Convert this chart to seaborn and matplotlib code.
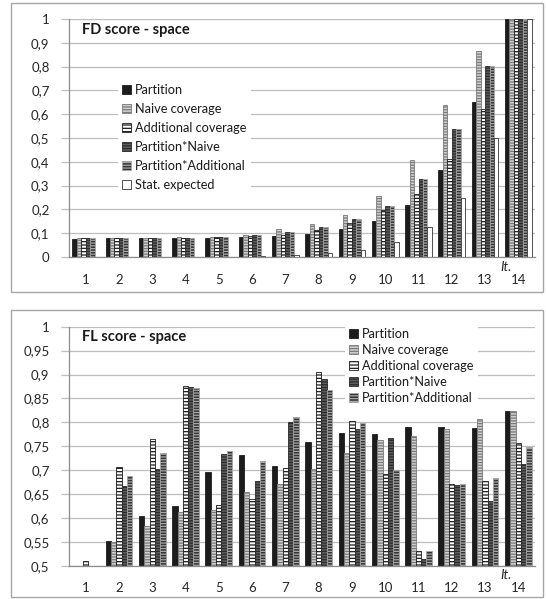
import matplotlib
matplotlib.use("Agg")
import matplotlib.pyplot as plt
import numpy as np
import pandas as pd
import seaborn as sns
from matplotlib.patches import Rectangle
from matplotlib.ticker import FuncFormatter, FixedLocator

# ---- data -------------------------------------------------------------
iterations = [str(i) for i in range(1, 15)]

fd_partition = [0.077, 0.078, 0.078, 0.079, 0.081, 0.085, 0.088, 0.096, 0.117, 0.153, 0.219, 0.365, 0.650, 1.0]
fd_naive = [0.078, 0.079, 0.080, 0.083, 0.085, 0.093, 0.116, 0.138, 0.178, 0.255, 0.406, 0.639, 0.866, 1.0]
fd_additional = [0.078, 0.078, 0.079, 0.081, 0.083, 0.088, 0.092, 0.113, 0.144, 0.197, 0.266, 0.413, 0.622, 1.0]
fd_part_naive = [0.078, 0.078, 0.079, 0.081, 0.084, 0.091, 0.105, 0.124, 0.158, 0.216, 0.329, 0.536, 0.803, 1.0]
fd_part_additional = [0.078, 0.078, 0.079, 0.081, 0.084, 0.091, 0.105, 0.124, 0.158, 0.216, 0.329, 0.536, 0.803, 1.0]
fd_expected = [0.0001, 0.0001, 0.0002, 0.0005, 0.001, 0.004, 0.008, 0.016, 0.031, 0.063, 0.125, 0.25, 0.5, 1.0]

fl_partition = [0.5, 0.552, 0.604, 0.625, 0.695, 0.732, 0.708, 0.759, 0.778, 0.776, 0.790, 0.790, 0.788, 0.824]
fl_naive = [0.5, 0.550, 0.583, 0.612, 0.616, 0.654, 0.670, 0.702, 0.736, 0.764, 0.771, 0.787, 0.807, 0.824]
fl_additional = [0.51, 0.706, 0.766, 0.876, 0.627, 0.639, 0.704, 0.906, 0.802, 0.692, 0.530, 0.670, 0.677, 0.757]
fl_part_naive = [0.5, 0.667, 0.702, 0.873, 0.733, 0.677, 0.800, 0.891, 0.785, 0.768, 0.515, 0.668, 0.635, 0.713]
fl_part_additional = [0.5, 0.688, 0.735, 0.871, 0.741, 0.719, 0.812, 0.868, 0.798, 0.700, 0.531, 0.670, 0.683, 0.748]

measures = ["Partition", "Naive coverage", "Additional coverage",
            "Partition*Naive", "Partition*Additional", "Stat. expected"]

# face colour, hatch, hatch colour, outline colour per measure
styles = {
    "Partition": ("#1c1c1c", "", "#1c1c1c", "#1c1c1c"),
    "Naive coverage": ("#d0d0d0", "------", "#7a7a7a", "#777777"),
    "Additional coverage": ("#ffffff", "-----", "#1a1a1a", "#1a1a1a"),
    "Partition*Naive": ("#5e5e5e", "------", "#2a2a2a", "#2a2a2a"),
    "Partition*Additional": ("#333333", "------", "#a8a8a8", "#222222"),
    "Stat. expected": ("#ffffff", "", "#333333", "#333333"),
}


def long_frame(series):
    rows = []
    for name, vals in series:
        for it, v in zip(iterations, vals):
            rows.append({"it": it, "measure": name, "score": v})
    return pd.DataFrame(rows)


fd_df = long_frame(list(zip(measures, [fd_partition, fd_naive, fd_additional,
                                       fd_part_naive, fd_part_additional, fd_expected])))
fl_df = long_frame(list(zip(measures[:5], [fl_partition, fl_naive, fl_additional,
                                           fl_part_naive, fl_part_additional])))

# ---- style ------------------------------------------------------------
sns.set_style("white")
plt.rcParams["font.family"] = ["Lato", "DejaVu Sans"]
plt.rcParams["hatch.linewidth"] = 0.9

W, H = 546, 599
fig = plt.figure(figsize=(W / 100, H / 100), dpi=100)

# panel frames
for (x0, y0, x1, y1) in [(11, 3, 543, 292), (11, 310, 543, 597)]:
    fig.patches.append(Rectangle((x0 / W, 1 - y1 / H), (x1 - x0) / W, (y1 - y0) / H,
                                 transform=fig.transFigure, fill=False,
                                 edgecolor="#a6a6a6", lw=1.0))

ax1 = fig.add_axes([69 / W, 1 - 257 / H, 466 / W, 238 / H])
ax2 = fig.add_axes([69 / W, 1 - 565.7 / H, 466 / W, 239 / H])


def comma(v, _pos=None):
    return f"{v:.2f}".rstrip("0").rstrip(".").replace(".", ",") if v not in (0, 1) else str(int(v))


def draw(ax, df, names, ymin, ystep, title, legend_anchor, label_spacing):
    sns.barplot(data=df, x="it", y="score", hue="measure", hue_order=names,
                palette=[styles[n][0] for n in names], saturation=1, width=0.8,
                legend=False, ax=ax, errorbar=None)
    for name, cont in zip(names, ax.containers):
        face, hatch, hcol, ecol = styles[name]
        for p in cont.patches:
            p.set_facecolor(face)
            p.set_linewidth(0.6)
            if hatch:
                p.set_hatch(hatch)
                if hasattr(p, "set_hatchcolor"):
                    p.set_hatchcolor(hcol)
                    p.set_edgecolor(ecol)
                else:
                    p.set_edgecolor(hcol)
            else:
                p.set_edgecolor(ecol)

    ax.set_ylim(ymin, 1.0)
    ax.set_xlim(-0.5, len(iterations) - 0.5)
    yt = np.round(np.arange(ymin, 1.0001, ystep), 2)
    ax.set_yticks(yt)
    ax.yaxis.set_major_formatter(FuncFormatter(comma))
    ax.yaxis.grid(True, color="#bdbdbd", lw=0.9)
    ax.set_axisbelow(True)

    ax.xaxis.set_minor_locator(FixedLocator(np.arange(-0.5, len(iterations), 1.0)))
    ax.tick_params(axis="x", which="major", length=0, pad=12, labelsize=9.5, colors="#262626")
    ax.tick_params(axis="x", which="minor", length=5, width=0.9, color="#a0a0a0", direction="out")
    ax.tick_params(axis="y", which="major", length=6, width=0.9, color="#bdbdbd",
                   pad=8, labelsize=9.5, labelcolor="#262626", left=True)
    for s in ("top", "right"):
        ax.spines[s].set_visible(False)
    for s in ("left", "bottom"):
        ax.spines[s].set_color("#8c8c8c")
        ax.spines[s].set_linewidth(0.9)
    ax.set_xlabel("")
    ax.set_ylabel("")

    ax.text(0.028, 0.955, title, transform=ax.transAxes, fontsize=10.5,
            fontweight="bold", va="center", ha="left", color="#1a1a1a")
    ax.text(0.937, -0.04, "It.", transform=ax.transAxes, fontsize=9.5,
            style="italic", va="center", ha="center", color="#262626")

    leg = ax.legend(handles=list(ax.containers), labels=names, loc="upper left",
                    bbox_to_anchor=legend_anchor, fontsize=9.2, frameon=True,
                    fancybox=False, framealpha=1, facecolor="white", edgecolor="none",
                    handlelength=0.7, handleheight=0.7, handletextpad=0.3,
                    labelspacing=label_spacing, borderpad=0.35, borderaxespad=0)
    for t in leg.get_texts():
        t.set_color("#1a1a1a")


draw(ax1, fd_df, measures, 0.0, 0.1, "FD score - space", (0.105, 0.745), 0.55)
draw(ax2, fl_df, measures[:5], 0.5, 0.05, "FL score - space", (0.592, 1.015), 0.32)

fig.savefig("out.png", dpi=100)
